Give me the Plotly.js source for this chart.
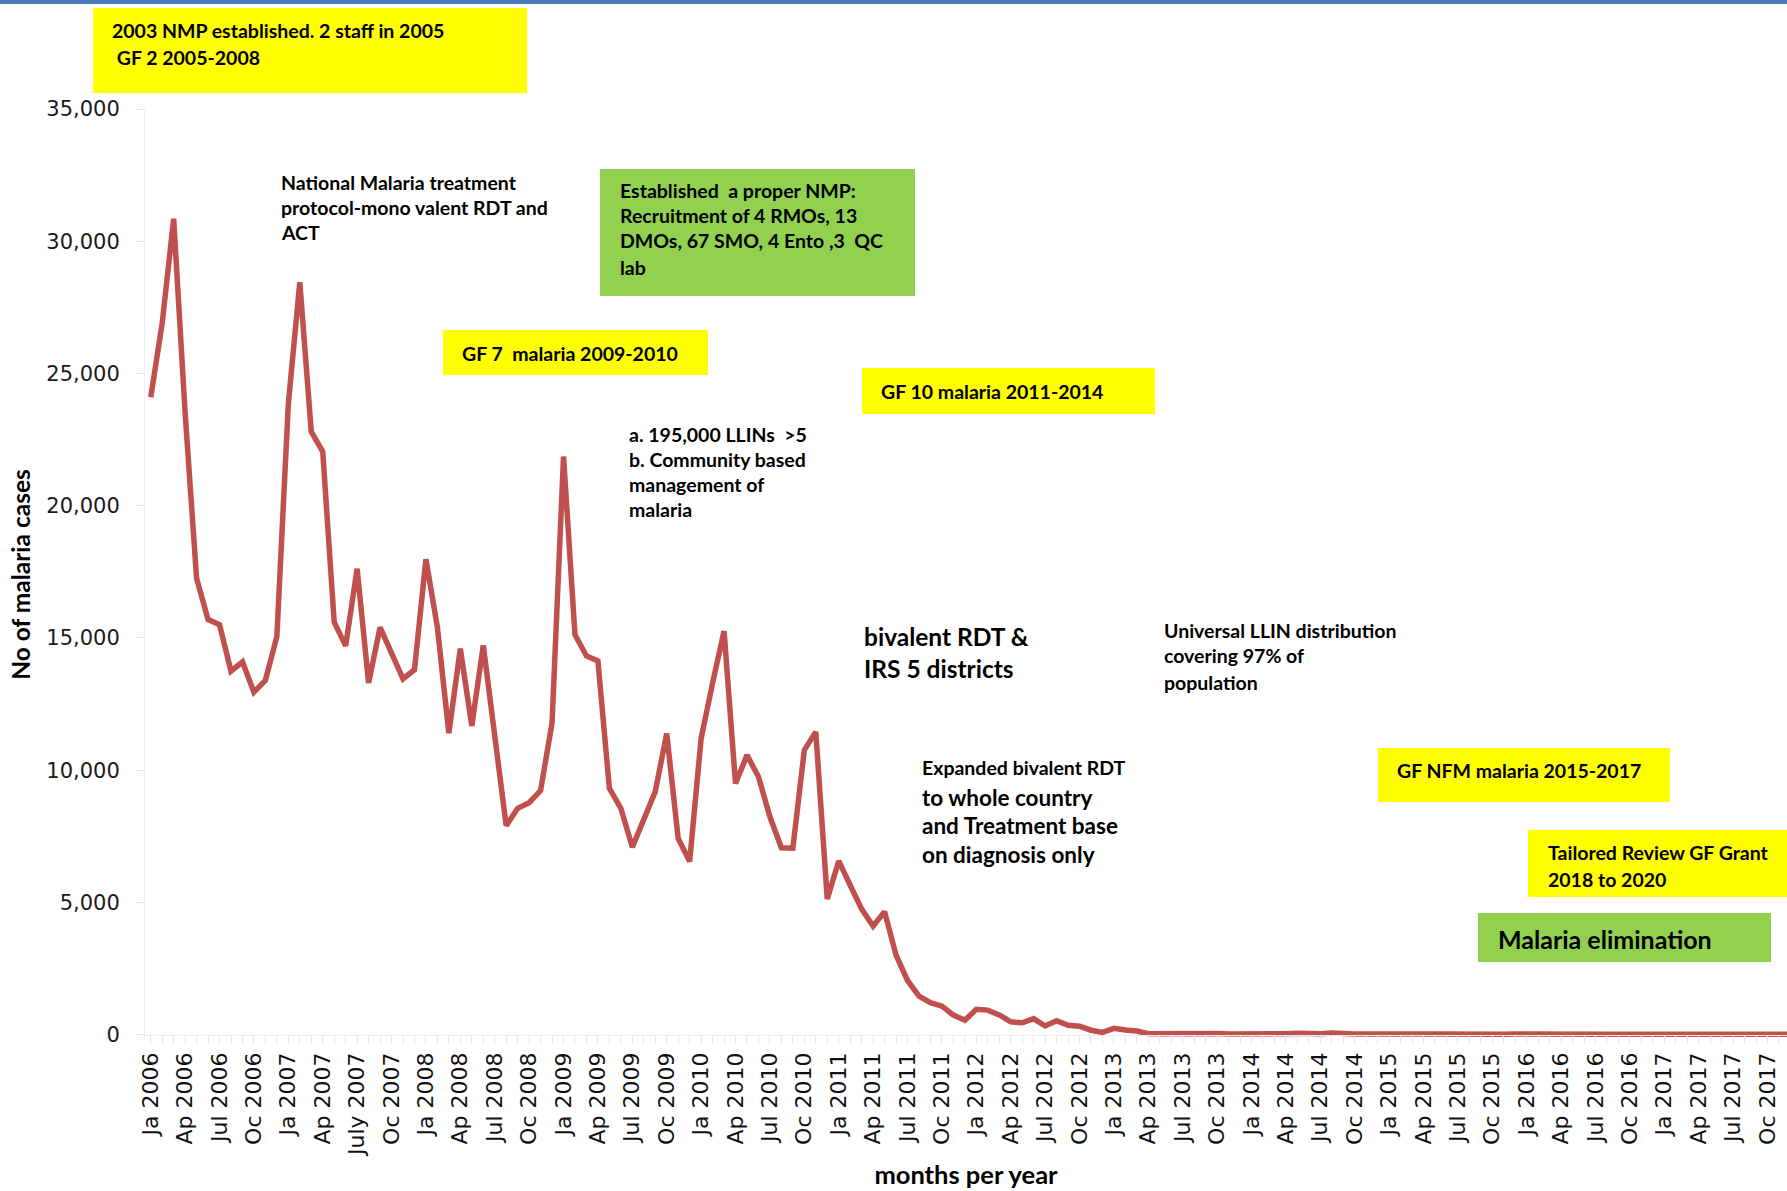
<!DOCTYPE html>
<html>
<head>
<meta charset="utf-8">
<script src="https://cdn.plot.ly/plotly-3.0.1.min.js"></script>
<style>html,body{margin:0;padding:0;background:#fff;}#chart{width:1787px;height:1191px;}</style>
</head>
<body>
<div id="chart"></div>
<script>
// Monthly malaria cases, Jan 2006 .. Dec 2017
const cases = [
  24100, 26900, 30850, 23500, 17250, 15700, 15500, 13750, 14100, 12950, 13400, 15050, // 2006
  23850, 28450, 22800, 22050, 15600, 14700, 17620, 13300, 15400, 14450, 13450, 13800, // 2007
  17980, 15400, 11400, 14600, 11680, 14720, 11400, 7900, 8560, 8770, 9230, 11800,     // 2008
  21860, 15120, 14320, 14130, 9310, 8560, 7090, 8140, 9190, 11390, 7420, 6550,        // 2009
  11200, 13300, 15260, 9500, 10570, 9750, 8240, 7070, 7050, 10760, 11450, 5130,       // 2010
  6570, 5650, 4750, 4110, 4650, 3010, 2050, 1460, 1210, 1080, 740, 550,               // 2011
  960, 930, 750, 490, 450, 610, 330, 530, 360, 320, 170, 90,                          // 2012
  240, 180, 140, 40, 45, 60, 55, 40, 50, 45, 30, 25,                                  // 2013
  40, 50, 45, 40, 55, 35, 40, 60, 30, 25, 30, 20,                                     // 2014
  25, 35, 30, 25, 30, 20, 25, 30, 20, 15, 20, 25,                                     // 2015
  30, 20, 25, 20, 30, 35, 25, 20, 15, 20, 20, 15,                                     // 2016
  25, 30, 20, 15, 20, 15, 20, 15, 20, 15, 20, 15                                      // 2017
];
const tickLabels = [
  "Ja 2006","Ap 2006","Jul 2006","Oc 2006",
  "Ja 2007","Ap 2007","July 2007","Oc 2007",
  "Ja 2008","Ap 2008","Jul 2008","Oc 2008",
  "Ja 2009","Ap 2009","Jul 2009","Oc 2009",
  "Ja 2010","Ap 2010","Jul 2010","Oc 2010",
  "Ja 2011","Ap 2011","Jul 2011","Oc 2011",
  "Ja 2012","Ap 2012","Jul 2012","Oc 2012",
  "Ja 2013","Ap 2013","Jul 2013","Oc 2013",
  "Ja 2014","Ap 2014","Jul 2014","Oc 2014",
  "Ja 2015","Ap 2015","Jul 2015","Oc 2015",
  "Ja 2016","Ap 2016","Jul 2016","Oc 2016",
  "Ja 2017","Ap 2017","Jul 2017","Oc 2017"
];
const yTicks = [0, 5000, 10000, 15000, 20000, 25000, 30000, 35000];

// Notes drawn on the chart
const notes = [
  {box:'#ffff00', rect:[93,8,527,93]},
  {box:'#92d050', rect:[600,169,915,296]},
  {box:'#ffff00', rect:[443,330,708,375]},
  {box:'#ffff00', rect:[862,368,1155,414]},
  {box:'#ffff00', rect:[1378,748,1670,802]},
  {box:'#ffff00', rect:[1528,830,1787,897]},
  {box:'#92d050', rect:[1478,913,1771,962]}
];
const texts = [
  {x:110, y:[31], lines:["2003 NMP established. 2 staff in 2005"], size:19.5},
  {x:110, y:[57], lines:["\u00a0GF 2 2005-2008"], size:19.5},
  {x:279, y:[182,207,232], lines:["National Malaria treatment","protocol-mono valent RDT and","ACT"], size:19.5},
  {x:618, y:[191,216,241,267], lines:["Established\u00a0 a proper NMP:","Recruitment of 4 RMOs, 13","DMOs, 67 SMO, 4 Ento ,3\u00a0 QC","lab"], size:19.5},
  {x:460, y:[353], lines:["GF 7\u00a0 malaria 2009-2010"], size:19.5},
  {x:879, y:[391], lines:["GF 10 malaria 2011-2014"], size:19.5},
  {x:627, y:[434,459,484,510], lines:["a. 195,000 LLINs\u00a0 >5","b. Community based","management of","malaria"], size:19.5},
  {x:862, y:[636,668], lines:["bivalent RDT &","IRS 5 districts"], size:24.5},
  {x:1162, y:[631,656,682], lines:["Universal LLIN distribution","covering 97% of","population"], size:19.5},
  {x:920, y:[768], lines:["Expanded bivalent RDT"], size:19.5},
  {x:920, y:[797,825,854], lines:["to whole country","and Treatment base","on diagnosis only"], size:22.5},
  {x:1395, y:[770], lines:["GF NFM malaria 2015-2017"], size:19.5},
  {x:1546, y:[852,879], lines:["Tailored Review GF Grant","2018 to 2020"], size:19.5},
  {x:1496, y:[939], lines:["Malaria elimination"], size:25}
];

const W = 1787, H = 1191;
const M = {l:145, r:0, t:109, b:151};
const PW = W - M.l - M.r, PH = H - M.t - M.b;
const xp = px => (px - M.l) / PW;
const yp = py => (H - M.b - py) / PH;

const xs = cases.map((_, i) => i);
const tickVals = tickLabels.map((_, i) => i * 3);

const shapes = [
  {type:'rect', xref:'paper', yref:'paper', x0:xp(0), x1:xp(W), y0:yp(4), y1:yp(0),
   fillcolor:'#4a7ebb', line:{width:0}}
];
notes.forEach(n => {
  shapes.push({type:'rect', xref:'paper', yref:'paper', layer:'below',
    x0:xp(n.rect[0]), x1:xp(n.rect[2]), y0:yp(n.rect[3]), y1:yp(n.rect[1]),
    fillcolor:n.box, line:{width:0}});
});
const annotations = [];
texts.forEach(t => {
  t.lines.forEach((ln, k) => {
    annotations.push({xref:'paper', yref:'paper', x:xp(t.x), y:yp(t.y[k]),
      xanchor:'left', yanchor:'middle', showarrow:false, align:'left',
      text:'<b>' + ln + '</b>', font:{family:'Lato', size:t.size, color:'#000'}});
  });
});

const trace = {
  x: xs, y: cases, type:'scatter', mode:'lines',
  line:{color:'#c0504d', width:5.5, shape:'linear'},
  hoverinfo:'skip', showlegend:false
};

const layout = {
  width:W, height:H, margin:M, paper_bgcolor:'#fff', plot_bgcolor:'#fff',
  showlegend:false,
  xaxis:{
    range:[-0.5, 142.7], anchor:'free', position:5.3/PH,
    tickmode:'array', tickvals:tickVals, ticktext:tickLabels, tickangle:-90,
    ticks:'outside', ticklen:8, tickcolor:'#e6e6e6', tickwidth:1,
    minor:{dtick:1, tick0:0, ticks:'outside', ticklen:8, tickcolor:'#e6e6e6', showgrid:false},
    showline:true, linecolor:'#ececec', linewidth:1,
    showgrid:false, zeroline:false,
    tickfont:{family:'DejaVu Sans', size:22, color:'#111'},
    title:{text:'<b>months per year</b>', font:{family:'Lato', size:25.5, color:'#000'}, standoff:10}
  },
  yaxis:{
    range:[-200, 35000], tickmode:'array', tickvals:yTicks, tickformat:',',
    ticks:'outside', ticklen:8, tickcolor:'#e6e6e6', ticklabelstandoff:12,
    showline:true, linecolor:'#f0f0f0', linewidth:1,
    showgrid:false, zeroline:false,
    tickfont:{family:'DejaVu Sans', size:21, color:'#1a1a1a'},
    title:{text:'<b>No of malaria cases</b>', font:{family:'Lato', size:24.5, color:'#000'}, standoff:8}
  },
  shapes:shapes, annotations:annotations
};

Plotly.newPlot('chart', [trace], layout, {displayModeBar:false, staticPlot:true});
</script>
</body>
</html>
